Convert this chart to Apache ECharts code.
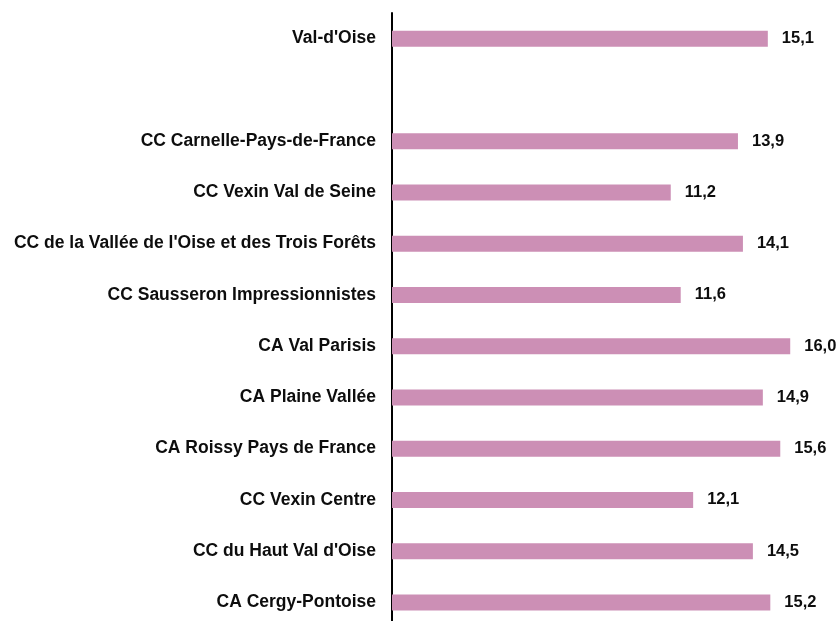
<!DOCTYPE html>
<html>
<head>
<meta charset="utf-8">
<script src="https://cdn.jsdelivr.net/npm/echarts@6/dist/echarts.min.js"></script>
<style>
  html, body { margin: 0; padding: 0; background: #fff; }
  #content { width: 840px; height: 621px; }
</style>
</head>
<body>
<div id="content"></div>
<script>
// libellés des territoires (une ligne vide entre le département et les EPCI)
var categories = [
    "Val-d'Oise",
    "",
    "CC Carnelle-Pays-de-France",
    "CC Vexin Val de Seine",
    "CC de la Vallée de l'Oise et des Trois Forêts",
    "CC Sausseron Impressionnistes",
    "CA Val Parisis",
    "CA Plaine Vallée",
    "CA Roissy Pays de France",
    "CC Vexin Centre",
    "CC du Haut Val d'Oise",
    "CA Cergy-Pontoise"
];
var values = [15.1, null, 13.9, 11.2, 14.1, 11.6, 16.0, 14.9, 15.6, 12.1, 14.5, 15.2];

var option = {
    backgroundColor: '#FFFFFF',
    animation: false,
    grid: {
        left: 392,
        right: 0,
        top: 13,
        height: 615,
        outerBoundsMode: 'none'
    },
    xAxis: {
        type: 'value',
        min: 0,
        max: 18,
        show: false
    },
    yAxis: {
        type: 'category',
        inverse: true,
        data: categories,
        axisLine: {
            show: true,
            lineStyle: { color: '#000000', width: 2 }
        },
        axisTick: { show: false },
        axisLabel: {
            margin: 16,
            fontFamily: 'Liberation Sans, Arial, sans-serif',
            fontWeight: 'bold',
            fontSize: 17.5,
            color: '#0d0d0d'
        }
    },
    series: [{
        type: 'bar',
        data: values,
        barWidth: 16,
        itemStyle: { color: '#CC8FB5' },
        label: {
            show: true,
            position: 'right',
            distance: 14,
            fontFamily: 'Liberation Sans, Arial, sans-serif',
            fontWeight: 'bold',
            fontSize: 16.5,
            color: '#0d0d0d',
            formatter: function(p) {
                return p.value == null ? '' : p.value.toFixed(1).replace('.', ',');
            }
        }
    }]
};

var myChart = echarts.init(document.getElementById('content'));
myChart.setOption(option);
</script>
</body>
</html>
